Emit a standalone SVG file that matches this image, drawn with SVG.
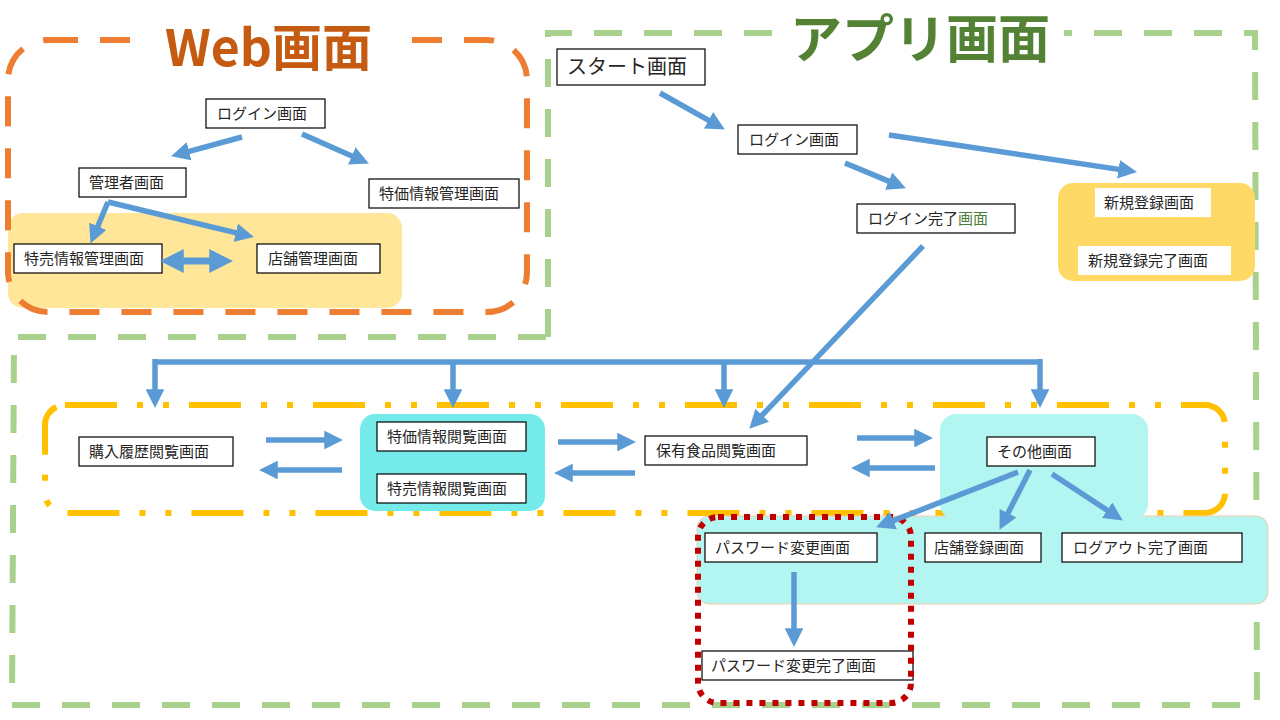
<svg xmlns="http://www.w3.org/2000/svg" width="1280" height="720" viewBox="0 0 1280 720">
<defs>
<marker id="ah" viewBox="0 0 10 10" refX="2" refY="5" markerWidth="3.4" markerHeight="3.4" orient="auto-start-reverse">
<path d="M0,0 L10,5 L0,10 z" fill="#5B9BD5"/>
</marker>
</defs>
<style>
.nd rect{fill:#fff;stroke:#000;stroke-width:1.2}
.nb rect{fill:#fff;stroke:none}
text{font-family:"Noto Sans CJK JP","Noto Sans",sans-serif}
.t{font-size:15px;fill:#262626}
.cn line,.cn path{stroke:#5B9BD5;stroke-width:5.5;fill:none;marker-end:url(#ah)}
</style>
<rect width="1280" height="720" fill="#fff"/>
<!-- frames -->
<g id="frames">
<path d="M548,337 L548,33 L1255,33 L1257,705 L12,705 L14,337 Z" fill="none" stroke="#A9D18E" stroke-width="6" stroke-dasharray="28 22"/>
<rect x="8" y="213" width="394" height="95" rx="15" fill="#FFE699"/>
<rect x="8" y="40" width="519" height="272" rx="40" fill="none" stroke="#ED7D31" stroke-width="6" stroke-dasharray="30 22"/>
<rect x="145" y="28" width="245" height="24" fill="#fff"/>
<text x="165" y="66" font-size="50" font-weight="bold" fill="#C55A11">Web画面</text>
<rect x="772" y="22" width="292" height="24" fill="#fff"/>
<text x="790" y="58" font-size="52" font-weight="bold" fill="#548235">アプリ画面</text>
<rect x="1058" y="183" width="197" height="98" rx="15" fill="#FFD966"/>
<rect x="45" y="405" width="1180" height="108" rx="20" fill="none" stroke="#FFC000" stroke-width="6" stroke-dasharray="52 20 6 20 6 20"/>
<rect x="360" y="414" width="185" height="97" rx="15" fill="#75EAEA"/>
<rect x="697" y="516" width="571" height="88" rx="12" fill="#B3F5F0" stroke="#F8CBAD" stroke-width="1"/>
<rect x="940" y="414" width="208" height="106" rx="16" fill="#B3F5F0"/>
</g>
<!-- nodes -->
<g id="web-login" class="nd"><rect x="206" y="99" width="119" height="29"/><text class="t" x="217" y="119">ログイン画面</text></g>
<g id="admin" class="nd"><rect x="79" y="168" width="107" height="29"/><text class="t" x="89" y="188">管理者画面</text></g>
<g id="tokka-kanri" class="nd"><rect x="369" y="179" width="150" height="29"/><text class="t" x="379" y="199">特価情報管理画面</text></g>
<g id="tokubai-kanri" class="nd"><rect x="14" y="244" width="148" height="29"/><text class="t" x="24" y="264">特売情報管理画面</text></g>
<g id="tenpo-kanri" class="nd"><rect x="257" y="244" width="123" height="29"/><text class="t" x="268" y="264">店舗管理画面</text></g>
<g id="start" class="nd"><rect x="557" y="49" width="148" height="36"/><text x="567" y="74" font-size="20" fill="#262626">スタート画面</text></g>
<g id="app-login" class="nd"><rect x="738" y="125" width="119" height="29"/><text class="t" x="749" y="145">ログイン画面</text></g>
<g id="login-done" class="nd"><rect x="857" y="204" width="158" height="29"/><text class="t" x="868" y="224">ログイン完了<tspan fill="#4E7D3A">画面</tspan></text></g>
<g id="shinki" class="nb"><rect x="1095" y="188" width="116" height="29"/><text class="t" x="1104" y="208">新規登録画面</text></g>
<g id="shinki-done" class="nb"><rect x="1078" y="246" width="153" height="29"/><text class="t" x="1088" y="266">新規登録完了画面</text></g>
<g id="konyu" class="nd"><rect x="79" y="437" width="154" height="29"/><text class="t" x="89" y="457">購入履歴閲覧画面</text></g>
<g id="tokka-etsuran" class="nd"><rect x="377" y="422" width="149" height="29"/><text class="t" x="387" y="442">特価情報閲覧画面</text></g>
<g id="tokubai-etsuran" class="nd"><rect x="377" y="474" width="149" height="29"/><text class="t" x="387" y="494">特売情報閲覧画面</text></g>
<g id="hoyu" class="nd"><rect x="645" y="436" width="162" height="29"/><text class="t" x="656" y="456">保有食品閲覧画面</text></g>
<g id="sonota" class="nd"><rect x="987" y="437" width="108" height="29"/><text class="t" x="997" y="457">その他画面</text></g>
<g id="pw" class="nd"><rect x="705" y="533" width="172" height="29"/><text class="t" x="715" y="553">パスワード変更画面</text></g>
<g id="tenpo-toroku" class="nd"><rect x="925" y="533" width="116" height="29"/><text class="t" x="934" y="553">店舗登録画面</text></g>
<g id="logout" class="nd"><rect x="1062" y="533" width="180" height="29"/><text class="t" x="1073" y="553">ログアウト完了画面</text></g>
<g id="pw-done" class="nd"><rect x="702" y="651" width="211" height="29"/><text class="t" x="711" y="671">パスワード変更完了画面</text></g>
<rect x="698" y="517" width="213" height="186" rx="20" fill="none" stroke="#C00000" stroke-width="6" stroke-dasharray="6 7"/>
<!-- connectors -->
<g id="connectors" class="cn">
<line x1="242" y1="137" x2="185.5" y2="152.3"/>
<line x1="302" y1="134" x2="355.2" y2="157.4"/>
<line x1="108" y1="202" x2="96.3" y2="229.7"/>
<line x1="108" y1="202" x2="239.4" y2="233.6"/>
<line x1="179" y1="261" x2="214" y2="261" style="marker-start:url(#ah);stroke-width:7"/>
<line x1="660" y1="93" x2="711.8" y2="122.1"/>
<line x1="889" y1="135" x2="1122.2" y2="169.9"/>
<line x1="845" y1="163" x2="892.1" y2="182.6"/>
<line x1="923" y1="246" x2="759.6" y2="417.9"/>
<path d="M155,362 H1040" style="marker-end:none"/>
<line x1="155" y1="359" x2="155" y2="393"/>
<line x1="453" y1="362" x2="453" y2="393"/>
<line x1="724" y1="362" x2="724" y2="393"/>
<line x1="1040" y1="359" x2="1040" y2="393"/>
<line x1="266" y1="440" x2="328" y2="440"/>
<line x1="342" y1="470" x2="274" y2="470"/>
<line x1="558" y1="442" x2="621" y2="442"/>
<line x1="635" y1="473" x2="569" y2="473"/>
<line x1="857" y1="438" x2="918" y2="438"/>
<line x1="935" y1="468" x2="866" y2="468"/>
<line x1="1018" y1="472" x2="890" y2="521.9"/>
<line x1="1030" y1="470" x2="1006.3" y2="516.5"/>
<line x1="1052" y1="474" x2="1110.3" y2="512.3"/>
<line x1="794" y1="572" x2="794" y2="632"/>
</g>
</svg>
